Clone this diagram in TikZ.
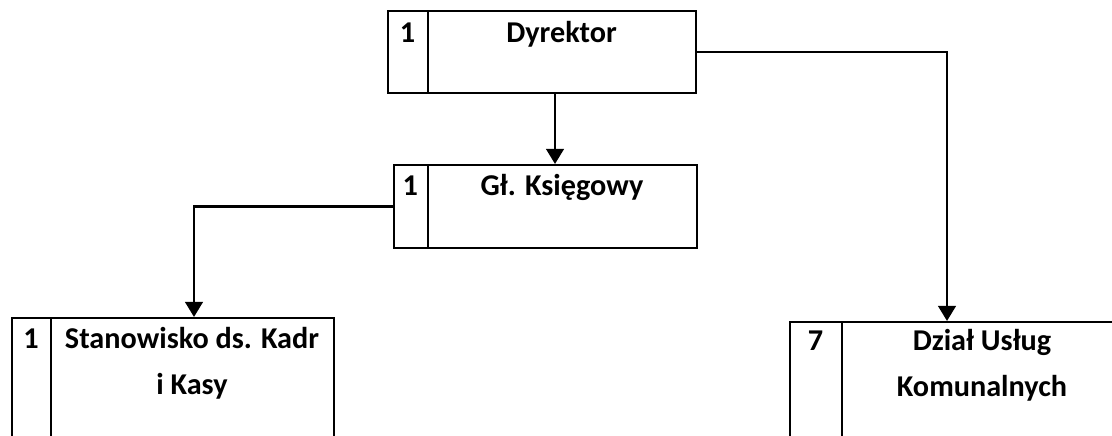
\documentclass[tikz,border=0pt]{standalone}
\usepackage{fontspec}
\setmainfont{Carlito}
\usetikzlibrary{arrows.meta,positioning}

\begin{document}
\begin{tikzpicture}[
  unitbox/.style={draw, line width=1.5pt, anchor=north west, inner sep=0pt},
  cellline/.style={line width=1.5pt},
  lbl/.style={font=\fontsize{21.5}{32.5}\selectfont\bfseries, anchor=base, align=center, inner sep=0pt},
  conn/.style={line width=2pt},
  arr/.style={conn, -{Triangle[length=3.8mm,width=4.4mm]}}
]
\useasboundingbox (0,0) rectangle (27.8,-10.875);
\clip (0,0) rectangle (27.8,-10.875);

% boxes
\node[unitbox, minimum width=7.7cm, minimum height=2.05cm] (dyr) at (9.675,-0.25) {};
\node[unitbox, minimum width=7.575cm, minimum height=2.075cm] (gl) at (9.825,-4.1) {};
\node[unitbox, minimum width=8.05cm, minimum height=3.5cm] (stan) at (0.275,-7.925) {};
\node[unitbox, minimum width=8.35cm, minimum height=3.5cm] (dz) at (19.725,-8.025) {};

% number cells
\draw[cellline] ([xshift=1.025cm]dyr.north west) -- ([xshift=1.025cm]dyr.south west);
\draw[cellline] ([xshift=0.875cm]gl.north west) -- ([xshift=0.875cm]gl.south west);
\draw[cellline] ([xshift=1.0cm]stan.north west) -- ([xshift=1.0cm]stan.south west);
\draw[cellline] ([xshift=1.325cm]dz.north west) -- ([xshift=1.325cm]dz.south west);

% texts (base = last line)
\node[lbl] (dyr-nr) at (10.19,-1.05) {1};
\node[lbl] (dyr-name) at (14.04,-1.05) {Dyrektor};
\node[lbl] (gl-nr) at (10.26,-4.875) {1};
\node[lbl] (gl-name) at (14.05,-4.875) {Gł. Księgowy};
\node[lbl] (stan-nr) at (0.775,-8.7) {1};
\node[lbl] (stan-name) at (4.8,-9.85) {Stanowisko ds. Kadr\\i Kasy};
\node[lbl] (dz-nr) at (20.39,-8.75) {7};
\node[lbl] (dz-name) at (24.55,-9.9) {Dział Usług\\Komunalnych};

% connectors
\coordinate (drop1) at (13.875,0);
\coordinate (drop2) at (4.85,0);
\coordinate (drop3) at (23.675,0);
\draw[arr] (dyr.south -| drop1) -- (gl.north -| drop1);
\draw[arr] (gl.west) -| (drop2 |- stan.north);
\draw[arr] (dyr.east) -| (drop3 |- dz.north);
\end{tikzpicture}
\end{document}
